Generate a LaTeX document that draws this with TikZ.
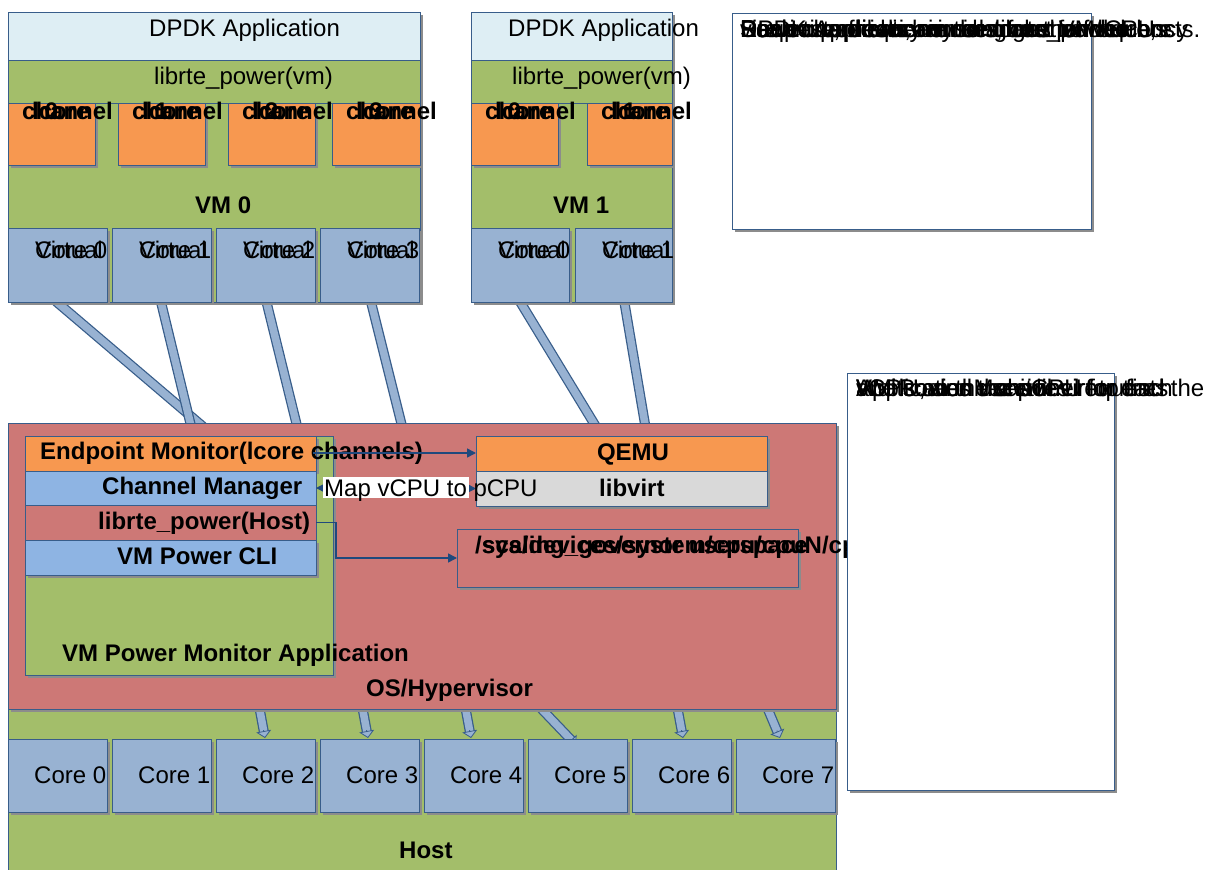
\documentclass[tikz,border=0pt]{standalone}
\usepackage{fontspec}
\setmainfont{Liberation Sans}
\usetikzlibrary{shadows,arrows.meta,calc}
\definecolor{dpdk}{RGB}{222,238,244}
\definecolor{grn}{RGB}{163,190,106}
\definecolor{org}{RGB}{247,152,80}
\definecolor{coreb}{RGB}{152,178,210}
\definecolor{cmb}{RGB}{142,180,227}
\definecolor{osp}{RGB}{205,120,118}
\definecolor{gry}{RGB}{217,217,217}
\definecolor{bdr}{RGB}{56,93,138}
\definecolor{arr}{RGB}{31,73,125}
\newcommand\mybox[6]{\node[boxst,#6,minimum width={(#4-#2)*1pt},minimum height={(#5-#3)*1pt}] (#1) at (#2,#3) {};}
\begin{document}
\begin{tikzpicture}[x=1pt,y=-1pt,
 boxst/.style={draw=bdr,line width=1pt,inner sep=0pt,outer sep=0pt,anchor=north west},
 shad/.style={drop shadow={shadow xshift=3pt,shadow yshift=-3pt,fill=black!45,opacity=1}},
 txt/.style={inner sep=0pt,anchor=base west,font=\fontsize{24}{28}\selectfont},
 btxt/.style={inner sep=0pt,anchor=base west,font=\fontsize{24}{28}\selectfont\bfseries},
 ctxt/.style={inner sep=0pt,anchor=base,font=\fontsize{24}{28}\selectfont\bfseries},
 pipeo/.style={line width=10pt,bdr},
 pipei/.style={line width=7.5pt,coreb},
 tipst/.style={-{Triangle[width=15pt,length=7pt,fill=coreb]},draw=bdr,line width=0.8pt},
 link/.style={draw=arr,line width=1.5pt}]
\useasboundingbox (0,0) rectangle (1211,870);
\fill[white] (0,0) rectangle (1211,870);

% Host
\mybox{host}{8}{700}{836}{872}{fill=grn}
\node[btxt] (hostt) at (399,858) {Host};

% pipes from hypervisor to host cores
\foreach \i/\ax/\bx/\by in {2/258/265/738,3/361/368/738,4/464/471/738,5/533/576/745,6/676/683/738,7/764/780/738}{
  \coordinate (qa\i) at (\ax,700);
  \coordinate (qb\i) at (\bx,\by);
  \draw[pipeo] (qa\i) -- ($(qb\i)!6pt!(qa\i)$);
  \draw[pipei] (qa\i) -- ($(qb\i)!6pt!(qa\i)$);
  \draw[tipst] ($(qb\i)!8pt!(qa\i)$) -- (qb\i);
}

% host cores
\foreach \i/\x in {0/8,1/112,2/216,3/320,4/424,5/528,6/632,7/736}{
  \pgfmathsetmacro\xe{\x+99}
  \mybox{hc\i}{\x}{739}{\xe}{812}{fill=coreb,shad}
  \node[txt] (hct\i) at (\x+26,783) {Core \i};
}

% pipes from VM cores to hypervisor
\foreach \i/\ax/\ay/\bx in {1/52/298/207,2/160/298/192,3/266/300/298,4/370/298/403,5/519/300/598,6/624/300/646}{
  \coordinate (pa\i) at (\ax,\ay);
  \coordinate (pb\i) at (\bx,430);
  \draw[pipeo] (pa\i) -- (pb\i);
  \draw[pipei] (pa\i) -- (pb\i);
  \draw[bdr,fill=coreb,line width=0.8pt] (pa\i) ellipse (5pt and 3pt);
}

% OS / Hypervisor
\mybox{os}{8}{423}{836}{709}{fill=osp,shad}
\node[btxt] (ost) at (366,696) {OS/Hypervisor};

% VM 0
\mybox{vm0}{8}{12}{420}{302}{fill=grn,shad}
\mybox{app0}{8}{12}{420}{60}{fill=dpdk}
\mybox{lib0}{8}{60}{420}{103}{fill=grn}
\node[txt] (app0t) at (149,36) {DPDK Application};
\node[txt] (lib0t) at (154,84) {librte\_power(vm)};
\foreach \i/\x/\xe in {0/8/95,1/118/205,2/228/315,3/332/420}{
  \mybox{ch0\i}{\x}{103}{\xe}{165}{fill=org,shad}
  \node[btxt] (ch0a\i) at (\x+14,119) {channel};
  \node[btxt] (ch0b\i) at (\x+24,119) {lcore};
  \node[ctxt] (ch0c\i) at ({(\x+\xe)/2},119) {\i};
}
\node[btxt] (vm0t) at (195,213) {VM 0};
\foreach \i/\x in {0/8,1/112,2/216,3/320}{
  \pgfmathsetmacro\xe{\x+99}
  \mybox{vc0\i}{\x}{228}{\xe}{302}{fill=coreb,shad}
  \node[txt] (vc0a\i) at (\x+27,258) {Virtual};
  \node[txt] (vc0b\i) at (\x+27,258) {Core \i};
}

% VM 1
\mybox{vm1}{471}{12}{672}{302}{fill=grn,shad}
\mybox{app1}{471}{12}{672}{60}{fill=dpdk}
\mybox{lib1}{471}{60}{672}{103}{fill=grn}
\node[txt] (app1t) at (508,36) {DPDK Application};
\node[txt] (lib1t) at (512,84) {librte\_power(vm)};
\foreach \i/\x/\xe in {0/471/558,1/587/672}{
  \mybox{ch1\i}{\x}{103}{\xe}{165}{fill=org,shad}
  \node[btxt] (ch1a\i) at (\x+14,119) {channel};
  \node[btxt] (ch1b\i) at (\x+24,119) {lcore};
  \node[ctxt] (ch1c\i) at ({(\x+\xe)/2},119) {\i};
}
\node[btxt] (vm1t) at (553,213) {VM 1};
\foreach \i/\x/\xe in {0/471/569,1/575/672}{
  \mybox{vc1\i}{\x}{228}{\xe}{302}{fill=coreb,shad}
  \node[txt] (vc1a\i) at (\x+27,258) {Virtual};
  \node[txt] (vc1b\i) at (\x+27,258) {Core \i};
}

% VM Power Monitor Application
\mybox{vmpm}{25}{436}{333}{675}{fill=grn,shad}
\mybox{epm}{25}{436}{316}{471}{fill=org,shad}
\mybox{chm}{25}{471}{316}{505}{fill=cmb}
\mybox{lph}{25}{505}{316}{540}{fill=osp}
\mybox{cli}{25}{540}{316}{575}{fill=cmb,shad}
\node[btxt] (epmt) at (40,459) {Endpoint Monitor(lcore channels)};
\node[btxt] (chmt) at (102,494) {Channel Manager};
\node[btxt] (lpht) at (98,529) {librte\_power(Host)};
\node[btxt] (clit) at (117,564) {VM Power CLI};
\node[btxt] (vmpmt) at (62,661) {VM Power Monitor Application};

% QEMU / libvirt
\mybox{qemu}{476}{436}{767}{471}{fill=org,shad}
\mybox{virt}{476}{471}{767}{506}{fill=gry,shad}
\node[ctxt] (qemut) at (633,460) {QEMU};
\node[btxt] (virtt) at (599,496) {libvirt};

% /sys box
\mybox{sys}{457}{529}{798}{587}{fill=osp,shad}
\node[btxt] (sysa) at (475,553) {/sys/devices/system/cpu/cpuN/cpufreq/};
\node[btxt] (sysb) at (482,553) {scaling\_governor userspace};

% connectors
\draw[link,-{Triangle[width=9pt,length=9pt]}] (313,453) coordinate (e1) -- (qemu.west |- e1);
\draw[link,{Triangle[width=9pt,length=9pt]}-{Triangle[width=9pt,length=9pt]}] (chm.east) -- (virt.west);
\node[fill=white,inner sep=0pt,minimum width=146pt,minimum height=21pt,anchor=north west] (maplbl) at (323,477) {};
\node[txt] (mapt) at (324,496) {Map vCPU to pCPU};
\draw[link,-{Triangle[width=9pt,length=9pt]}] (lph.east) -- ++(20,0) |- (sys.west);

% side note boxes
\mybox{note1}{732}{13}{1091}{229}{fill=white,shad}
\foreach \s [count=\k] in {{DPDK Applications use librte\_power},
  {Requests frequency changes for vCPUs},
  {via virtio-serial channels, one per lcore,},
  {Each channel is a unix socket on the hosts.},
  {Power requests are sent from each lcore},
  {Rte power library in the guest VM},
  {Scale up, down, min or max the frequency}}{
  \node[txt] (n1t\k) at (740,37) {\s};
}
\mybox{note2}{847}{373}{1114}{790}{fill=white,shad}
\foreach \s [count=\k] in {{VM Power Monitor},
  {Application receives requests},
  {and scales the pCPU for the},
  {vCPU, and uses libvirt to find the},
  {Waits on the channel for each}}{
  \node[txt] (n2t\k) at (856,396) {\s};
}
\end{tikzpicture}
\end{document}
